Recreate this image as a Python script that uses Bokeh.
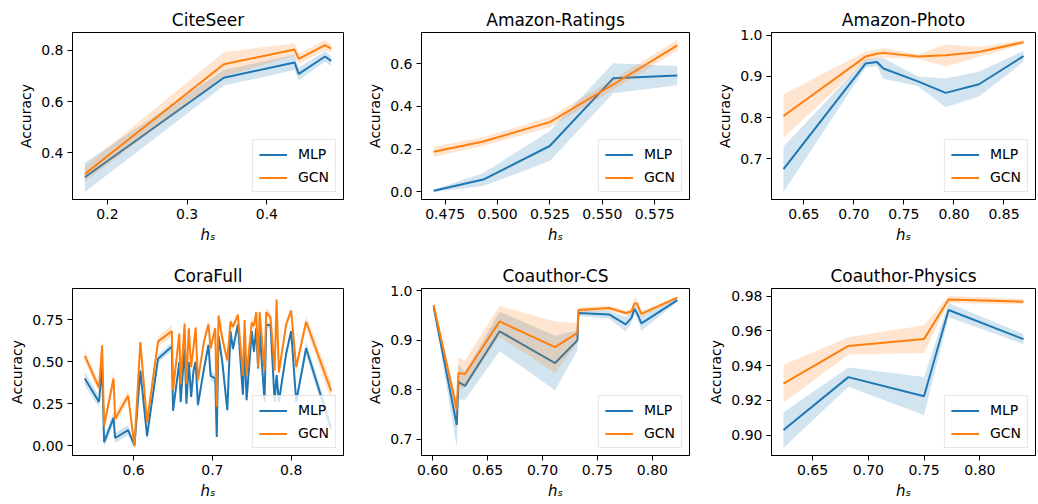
import numpy as np
from bokeh.plotting import figure
from bokeh.layouts import column, row
from bokeh.models import FixedTicker, PrintfTickFormatter, Range1d
from bokeh.embed import file_html
from bokeh.resources import INLINE

BLUE = "#1f77b4"
ORANGE = "#ff7f0e"
FONT = "DejaVu Sans"

# ---------------- data ----------------
citeseer_x = [0.1716, 0.346, 0.4347, 0.440, 0.473, 0.4807]
citeseer_mlp = [0.305, 0.693, 0.753, 0.708, 0.776, 0.759]
citeseer_mlp_sd = [0.057, 0.03, 0.03, 0.025, 0.02, 0.02]
citeseer_gcn = [0.318, 0.746, 0.803, 0.767, 0.820, 0.807]
citeseer_gcn_sd = [0.03, 0.047, 0.025, 0.02, 0.02, 0.015]
citeseer_xticks = [0.2, 0.3, 0.4]
citeseer_yticks = [0.4, 0.6, 0.8]

ratings_x = [0.4695, 0.4932, 0.5249, 0.5552, 0.5858]
ratings_mlp = [0.005, 0.058, 0.215, 0.532, 0.545]
ratings_mlp_sd = [0.005, 0.03, 0.07, 0.07, 0.045]
ratings_gcn = [0.188, 0.236, 0.327, 0.503, 0.686]
ratings_gcn_sd = [0.025, 0.02, 0.025, 0.025, 0.025]
ratings_xticks = [0.475, 0.500, 0.525, 0.550, 0.575]
ratings_yticks = [0.0, 0.2, 0.4, 0.6]

photo_x = [0.6296, 0.7116, 0.723, 0.7294, 0.764, 0.7917, 0.825, 0.8695]
photo_mlp = [0.675, 0.931, 0.935, 0.919, 0.888, 0.860, 0.881, 0.949]
photo_mlp_sd = [0.055, 0.01, 0.01, 0.025, 0.012, 0.035, 0.03, 0.013]
photo_gcn = [0.804, 0.948, 0.955, 0.957, 0.948, 0.951, 0.959, 0.983]
photo_gcn_sd = [0.053, 0.012, 0.01, 0.012, 0.005, 0.027, 0.012, 0.005]
photo_xticks = [0.65, 0.70, 0.75, 0.80, 0.85]
photo_yticks = [0.7, 0.8, 0.9, 1.0]

cora_x = [0.538, 0.556, 0.560, 0.5625, 0.5745, 0.5765, 0.593, 0.601, 0.6085, 0.617,
          0.631, 0.6485, 0.650, 0.658, 0.6597, 0.6647, 0.667, 0.670, 0.673, 0.676,
          0.6787, 0.6816, 0.6893, 0.695, 0.6977, 0.7036, 0.7055, 0.7078, 0.7125, 0.7189,
          0.723, 0.726, 0.7324, 0.7387, 0.7409, 0.7434, 0.750, 0.7527, 0.7557, 0.758,
          0.760, 0.7662, 0.7683, 0.7738, 0.779, 0.7815, 0.7844, 0.7937, 0.800, 0.8064,
          0.819, 0.8508]
cora_gcn = [0.535, 0.345, 0.598, 0.12, 0.40, 0.16, 0.297, -0.004, 0.617, 0.139,
            0.621, 0.682, 0.33, 0.668, 0.365, 0.727, 0.365, 0.699, 0.467, 0.586,
            0.703, 0.389, 0.62, 0.723, 0.58, 0.699, 0.232, 0.775, 0.641, 0.508,
            0.740, 0.707, 0.779, 0.416, 0.748, 0.42, 0.734, 0.713, 0.795, 0.467,
            0.795, 0.447, 0.795, 0.764, 0.447, 0.871, 0.436, 0.723, 0.805, 0.467,
            0.738, 0.324]
cora_gcn_sd = [0.035, 0.03, 0.03, 0.04, 0.04, 0.035, 0.03, 0.01, 0.03, 0.03,
               0.03, 0.035, 0.03, 0.03, 0.03, 0.03, 0.03, 0.03, 0.03, 0.03,
               0.03, 0.03, 0.03, 0.03, 0.03, 0.03, 0.03, 0.03, 0.03, 0.03,
               0.025, 0.025, 0.025, 0.03, 0.025, 0.03, 0.025, 0.025, 0.025, 0.03,
               0.025, 0.03, 0.025, 0.025, 0.03, 0.02, 0.03, 0.03, 0.03, 0.03,
               0.035, 0.06]
cora_mlp = [0.40, 0.26, 0.47, 0.02, 0.165, 0.045, 0.092, 0.0, 0.447, 0.057,
            0.518, 0.59, 0.207, 0.498, 0.26, 0.58, 0.25, 0.498, 0.29, 0.447,
            0.498, 0.242, 0.457, 0.60, 0.416, 0.40, 0.051, 0.652, 0.50, 0.211,
            0.682, 0.576, 0.723, 0.303, 0.60, 0.27, 0.682, 0.56, 0.70, 0.46,
            0.69, 0.262, 0.719, 0.719, 0.262, 0.42, 0.262, 0.55, 0.682, 0.262,
            0.58, 0.10]
cora_mlp_sd = [0.04, 0.035, 0.03, 0.03, 0.04, 0.03, 0.03, 0.01, 0.03, 0.03,
               0.025, 0.025, 0.03, 0.03, 0.03, 0.025, 0.03, 0.03, 0.03, 0.03,
               0.03, 0.03, 0.03, 0.03, 0.03, 0.03, 0.03, 0.03, 0.03, 0.03,
               0.025, 0.025, 0.02, 0.03, 0.03, 0.03, 0.025, 0.025, 0.025, 0.03,
               0.025, 0.03, 0.02, 0.02, 0.03, 0.03, 0.03, 0.03, 0.03, 0.03,
               0.04, 0.04]
cora_xticks = [0.6, 0.7, 0.8]
cora_yticks = [0.0, 0.25, 0.50, 0.75]

cs_x = [0.601, 0.622, 0.6235, 0.6295, 0.661, 0.7115, 0.7318, 0.7327, 0.7606, 0.7757,
        0.781, 0.7836, 0.786, 0.790, 0.8227]
cs_mlp = [0.967, 0.729, 0.816, 0.808, 0.918, 0.854, 0.900, 0.955, 0.952, 0.932,
          0.945, 0.963, 0.955, 0.934, 0.981]
cs_mlp_sd = [0.005, 0.046, 0.035, 0.028, 0.04, 0.055, 0.02, 0.006, 0.008, 0.015,
             0.01, 0.01, 0.01, 0.015, 0.004]
cs_gcn = [0.971, 0.760, 0.834, 0.832, 0.938, 0.886, 0.915, 0.961, 0.965, 0.955,
          0.958, 0.974, 0.974, 0.953, 0.986]
cs_gcn_sd = [0.005, 0.02, 0.032, 0.027, 0.031, 0.052, 0.02, 0.005, 0.005, 0.005,
             0.006, 0.012, 0.01, 0.006, 0.003]
cs_xticks = [0.60, 0.65, 0.70, 0.75, 0.80]
cs_yticks = [0.7, 0.8, 0.9, 1.0]

phys_x = [0.6239, 0.6821, 0.7499, 0.7719, 0.8391]
phys_mlp = [0.9029, 0.9334, 0.9224, 0.9721, 0.9553]
phys_mlp_sd = [0.0103, 0.0056, 0.011, 0.004, 0.003]
phys_gcn = [0.9296, 0.9514, 0.9553, 0.9781, 0.9769]
phys_gcn_sd = [0.011, 0.005, 0.008, 0.002, 0.0015]
phys_xticks = [0.65, 0.70, 0.75, 0.80]
phys_yticks = [0.90, 0.92, 0.94, 0.96, 0.98]

titles = ["CiteSeer", "Amazon-Ratings", "Amazon-Photo",
          "CoraFull", "Coauthor-CS", "Coauthor-Physics"]
series_names = ["MLP", "GCN"]
x_label = "h\u209b"
y_label = "Accuracy"

panels = [
    (citeseer_x, citeseer_mlp, citeseer_mlp_sd, citeseer_gcn, citeseer_gcn_sd,
     citeseer_xticks, "%.1f", citeseer_yticks, "%.1f"),
    (ratings_x, ratings_mlp, ratings_mlp_sd, ratings_gcn, ratings_gcn_sd,
     ratings_xticks, "%.3f", ratings_yticks, "%.1f"),
    (photo_x, photo_mlp, photo_mlp_sd, photo_gcn, photo_gcn_sd,
     photo_xticks, "%.2f", photo_yticks, "%.1f"),
    (cora_x, cora_mlp, cora_mlp_sd, cora_gcn, cora_gcn_sd,
     cora_xticks, "%.1f", cora_yticks, "%.2f"),
    (cs_x, cs_mlp, cs_mlp_sd, cs_gcn, cs_gcn_sd,
     cs_xticks, "%.2f", cs_yticks, "%.1f"),
    (phys_x, phys_mlp, phys_mlp_sd, phys_gcn, phys_gcn_sd,
     phys_xticks, "%.2f", phys_yticks, "%.2f"),
]

# layout geometry (frame sizes and borders)
col_geom = [(72, 271, 8), (70, 268, 8), (74, 264, 1)]   # left border, frame width, right border
row_geom = [(32, 167, 57), (32, 167, 47)]               # top border, frame height, bottom border


def make_panel(idx, data):
    x, m, msd, g, gsd, xt, xf, yt, yf = data
    x = np.array(x); m = np.array(m); msd = np.array(msd)
    g = np.array(g); gsd = np.array(gsd)
    bl, fw, br = col_geom[idx % 3]
    bt, fh, bb = row_geom[idx // 3]
    lo = min((m - msd).min(), (g - gsd).min())
    hi = max((m + msd).max(), (g + gsd).max())
    ypad = (hi - lo) * 0.05
    xpad = (x.max() - x.min()) * 0.05
    p = figure(frame_width=fw, frame_height=fh,
               min_border_left=bl, min_border_right=br,
               min_border_top=bt, min_border_bottom=bb,
               x_range=Range1d(x.min() - xpad, x.max() + xpad),
               y_range=Range1d(lo - ypad, hi + ypad),
               title=titles[idx],
               output_backend="svg", toolbar_location=None)
    p.title.text_font = FONT
    p.title.text_font_size = "17px"
    p.title.text_font_style = "normal"
    p.title.text_color = "black"
    p.title.align = "center"
    p.title.standoff = 5

    p.grid.visible = False
    p.outline_line_color = "black"
    p.outline_line_width = 1
    p.outline_line_alpha = 1
    p.background_fill_color = "white"
    p.border_fill_color = "white"

    for ax, ticks, fmt in ((p.xaxis, xt, xf), (p.yaxis, yt, yf)):
        ax.ticker = FixedTicker(ticks=ticks, minor_ticks=[])
        ax.formatter = PrintfTickFormatter(format=fmt)
        ax.major_tick_out = 5
        ax.major_tick_in = 0
        ax.minor_tick_out = 0
        ax.minor_tick_in = 0
        ax.major_tick_line_color = "black"
        ax.axis_line_color = "black"
        ax.major_label_standoff = 4
        ax.major_label_text_font = FONT
        ax.major_label_text_font_size = "14px"
        ax.major_label_text_color = "black"
        ax.axis_label_text_font = FONT
        ax.axis_label_text_font_size = "15px"
        ax.axis_label_text_color = "black"

    p.yaxis.axis_label = y_label
    p.yaxis.axis_label_text_font_size = "14px"
    p.yaxis.axis_label_text_font_style = "normal"
    p.yaxis.axis_label_standoff = 4
    p.xaxis.axis_label = x_label
    p.xaxis.axis_label_text_font_style = "italic"
    p.xaxis.axis_label_standoff = 4

    p.varea(x=x, y1=m - msd, y2=m + msd, fill_color=BLUE, fill_alpha=0.2)
    p.line(x, m, line_color=BLUE, line_width=2, legend_label=series_names[0])
    p.varea(x=x, y1=g - gsd, y2=g + gsd, fill_color=ORANGE, fill_alpha=0.2)
    p.line(x, g, line_color=ORANGE, line_width=2, legend_label=series_names[1])

    lg = p.legend[0]
    lg.location = "bottom_right"
    lg.margin = 7
    lg.padding = 6
    lg.spacing = 7
    lg.glyph_width = 28
    lg.glyph_height = 15
    lg.label_height = 15
    lg.label_standoff = 11
    lg.label_text_font = FONT
    lg.label_text_font_size = "14px"
    lg.label_text_color = "black"
    lg.border_line_color = "#cccccc"
    lg.border_line_width = 1
    lg.background_fill_alpha = 0.8
    return p


figs = [make_panel(i, d) for i, d in enumerate(panels)]
layout = column(row(*figs[:3]), row(*figs[3:]))
open("out.html", "w").write(file_html(layout, INLINE))
